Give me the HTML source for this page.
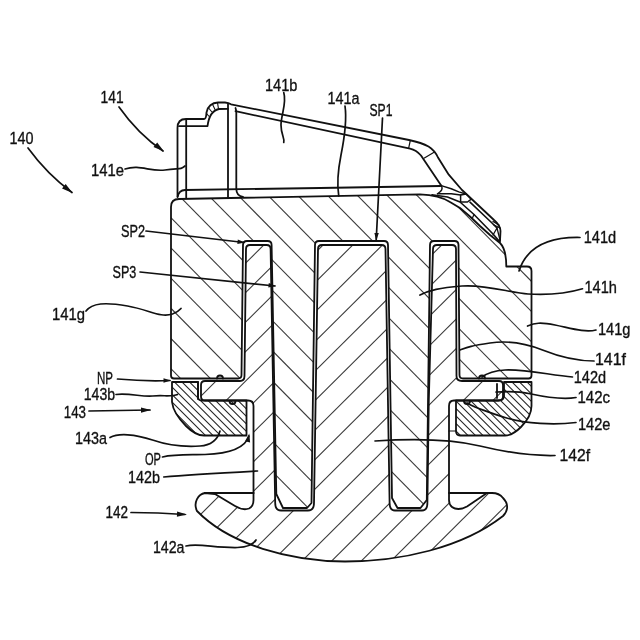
<!DOCTYPE html>
<html><head><meta charset="utf-8"><title>Figure</title>
<style>
html,body{margin:0;padding:0;background:#fff;}
body{width:640px;height:640px;overflow:hidden;font-family:"Liberation Sans",sans-serif;}
svg{display:block;}
</style></head><body>
<svg width="640" height="640" viewBox="0 0 640 640">
<rect x="0" y="0" width="640" height="640" fill="#fff"/>
<defs>
<clipPath id="c141"><path d="
M 171,207 Q 171,199 179,199 L 420,194.3
C 434,194.8 444,198 450,202 L 460,208 L 470,216.5 L 480,226 L 490,235 L 500,243
C 504,247 506.3,254 506.3,266.5 L 527,266.5 Q 531.5,266.5 531.5,271
L 531.5,375.5 Q 531.5,378.5 528.5,378.5 L 463,378.5 Q 459.5,378.5 459.5,375
L 458.5,245 Q 458.5,241 454.5,241 L 434,241 Q 430,241 430,245
L 426.8,500 L 420.5,508 L 397.5,508 L 392,498
L 388,245 Q 388,241 384,241 L 319,241 Q 315,241 315,245
L 311.5,503 L 307,508 L 283,508 L 276.3,494
L 271.6,245 Q 271.6,241 267.6,241 L 247,241 Q 243,241 243,245
L 241.5,375 Q 241.5,378.5 238,378.5 L 174,378.5 Q 171,378.5 171,375.5 Z
"/></clipPath>
<clipPath id="c142"><path d="
M 205,493 C 198,494 193,503 197,511
C 230,545 290,561 345,561.5
C 400,561.5 462,548 503,516
C 509,510 508,503 503,498
C 500,494 496,493 492,493 L 487,493
L 467,506.5 C 461,510 455,509.5 452,507
C 449.5,505 449,503 449,500
L 449,406 Q 449,400.5 454,400.5 L 499,400.5 Q 503,400.5 503,396.5
L 503,385 Q 503,381 499,381 L 462,381 Q 456.5,381 456.5,376
L 456,249 Q 456,245 452,245 L 437,245 Q 433,245 433,249
L 428.8,400 L 427.4,503 Q 427.4,510.5 422,510.5 L 395,510.5 Q 389.6,510.5 389.6,503
L 385.5,249 Q 385.5,245 381.5,245 L 322,245 Q 318,245 318,249
L 314,503 Q 314,510.5 308,510.5 L 281,510.5 Q 275.2,510.5 275.2,503
L 270.6,249 Q 270.6,245 266.6,245 L 250,245 Q 246,245 246,249
L 244.5,376 Q 244.5,381 240,381 L 205,381 Q 201,381 201,385
L 201,396.5 Q 201,400.5 205,400.5 L 248,400.5 Q 253.5,400.5 253.5,406
L 253.5,500 C 253.5,504 252,507 249,508.5 C 245,510 240,509 235,506
L 215,494 Z
"/></clipPath>
<clipPath id="c143"><path d="
M 172,382 L 198,382 L 198,397 Q 198,400.5 202,400.5 L 245.5,400.5
L 246.5,400.5 L 246.5,435.5 L 204,435.5 C 197,435.5 191,431 186,426 C 178,418 173,411 172,402 Z
"/><path d="
M 504,382 L 531.5,382 L 531.5,406 C 531.5,414 527,421 521,427 C 517,431 512,435.5 505,435.5
L 460,435.5 Q 456,435.5 456,431 L 456,400.5 L 498,400.5 Q 504,400.5 504,396 Z
"/></clipPath>
<filter id="tf" x="0" y="0" width="640" height="640" filterUnits="userSpaceOnUse"><feOffset dx="0" dy="0"/></filter>
</defs>
<g clip-path="url(#c141)"><g stroke="#3a3a3a" stroke-width="1.1" fill="none"><line x1="0" y1="-620.00" x2="640" y2="28.96"/><line x1="0" y1="-589.80" x2="640" y2="59.16"/><line x1="0" y1="-559.60" x2="640" y2="89.36"/><line x1="0" y1="-529.40" x2="640" y2="119.56"/><line x1="0" y1="-499.20" x2="640" y2="149.76"/><line x1="0" y1="-469.00" x2="640" y2="179.96"/><line x1="0" y1="-438.80" x2="640" y2="210.16"/><line x1="0" y1="-408.60" x2="640" y2="240.36"/><line x1="0" y1="-378.40" x2="640" y2="270.56"/><line x1="0" y1="-348.20" x2="640" y2="300.76"/><line x1="0" y1="-318.00" x2="640" y2="330.96"/><line x1="0" y1="-287.80" x2="640" y2="361.16"/><line x1="0" y1="-257.60" x2="640" y2="391.36"/><line x1="0" y1="-227.40" x2="640" y2="421.56"/><line x1="0" y1="-197.20" x2="640" y2="451.76"/><line x1="0" y1="-167.00" x2="640" y2="481.96"/><line x1="0" y1="-136.80" x2="640" y2="512.16"/><line x1="0" y1="-106.60" x2="640" y2="542.36"/><line x1="0" y1="-76.40" x2="640" y2="572.56"/><line x1="0" y1="-46.20" x2="640" y2="602.76"/><line x1="0" y1="-16.00" x2="640" y2="632.96"/><line x1="0" y1="14.20" x2="640" y2="663.16"/><line x1="0" y1="44.40" x2="640" y2="693.36"/><line x1="0" y1="74.60" x2="640" y2="723.56"/><line x1="0" y1="104.80" x2="640" y2="753.76"/><line x1="0" y1="135.00" x2="640" y2="783.96"/><line x1="0" y1="165.20" x2="640" y2="814.16"/><line x1="0" y1="195.40" x2="640" y2="844.36"/><line x1="0" y1="225.60" x2="640" y2="874.56"/><line x1="0" y1="255.80" x2="640" y2="904.76"/><line x1="0" y1="286.00" x2="640" y2="934.96"/><line x1="0" y1="316.20" x2="640" y2="965.16"/><line x1="0" y1="346.40" x2="640" y2="995.36"/><line x1="0" y1="376.60" x2="640" y2="1025.56"/><line x1="0" y1="406.80" x2="640" y2="1055.76"/><line x1="0" y1="437.00" x2="640" y2="1085.96"/><line x1="0" y1="467.20" x2="640" y2="1116.16"/><line x1="0" y1="497.40" x2="640" y2="1146.36"/><line x1="0" y1="527.60" x2="640" y2="1176.56"/><line x1="0" y1="557.80" x2="640" y2="1206.76"/><line x1="0" y1="588.00" x2="640" y2="1236.96"/><line x1="0" y1="618.20" x2="640" y2="1267.16"/></g></g>
<g clip-path="url(#c142)"><g stroke="#3a3a3a" stroke-width="1.1" fill="none"><line x1="0" y1="6.00" x2="640" y2="-630.80"/><line x1="0" y1="35.50" x2="640" y2="-601.30"/><line x1="0" y1="65.00" x2="640" y2="-571.80"/><line x1="0" y1="94.50" x2="640" y2="-542.30"/><line x1="0" y1="124.00" x2="640" y2="-512.80"/><line x1="0" y1="153.50" x2="640" y2="-483.30"/><line x1="0" y1="183.00" x2="640" y2="-453.80"/><line x1="0" y1="212.50" x2="640" y2="-424.30"/><line x1="0" y1="242.00" x2="640" y2="-394.80"/><line x1="0" y1="271.50" x2="640" y2="-365.30"/><line x1="0" y1="301.00" x2="640" y2="-335.80"/><line x1="0" y1="330.50" x2="640" y2="-306.30"/><line x1="0" y1="360.00" x2="640" y2="-276.80"/><line x1="0" y1="389.50" x2="640" y2="-247.30"/><line x1="0" y1="419.00" x2="640" y2="-217.80"/><line x1="0" y1="448.50" x2="640" y2="-188.30"/><line x1="0" y1="478.00" x2="640" y2="-158.80"/><line x1="0" y1="507.50" x2="640" y2="-129.30"/><line x1="0" y1="537.00" x2="640" y2="-99.80"/><line x1="0" y1="566.50" x2="640" y2="-70.30"/><line x1="0" y1="596.00" x2="640" y2="-40.80"/><line x1="0" y1="625.50" x2="640" y2="-11.30"/><line x1="0" y1="655.00" x2="640" y2="18.20"/><line x1="0" y1="684.50" x2="640" y2="47.70"/><line x1="0" y1="714.00" x2="640" y2="77.20"/><line x1="0" y1="743.50" x2="640" y2="106.70"/><line x1="0" y1="773.00" x2="640" y2="136.20"/><line x1="0" y1="802.50" x2="640" y2="165.70"/><line x1="0" y1="832.00" x2="640" y2="195.20"/><line x1="0" y1="861.50" x2="640" y2="224.70"/><line x1="0" y1="891.00" x2="640" y2="254.20"/><line x1="0" y1="920.50" x2="640" y2="283.70"/><line x1="0" y1="950.00" x2="640" y2="313.20"/><line x1="0" y1="979.50" x2="640" y2="342.70"/><line x1="0" y1="1009.00" x2="640" y2="372.20"/><line x1="0" y1="1038.50" x2="640" y2="401.70"/><line x1="0" y1="1068.00" x2="640" y2="431.20"/><line x1="0" y1="1097.50" x2="640" y2="460.70"/><line x1="0" y1="1127.00" x2="640" y2="490.20"/><line x1="0" y1="1156.50" x2="640" y2="519.70"/><line x1="0" y1="1186.00" x2="640" y2="549.20"/><line x1="0" y1="1215.50" x2="640" y2="578.70"/><line x1="0" y1="1245.00" x2="640" y2="608.20"/><line x1="0" y1="1274.50" x2="640" y2="637.70"/></g></g>
<g clip-path="url(#c143)"><g stroke="#222" stroke-width="1.1" fill="none"><line x1="0" y1="-370.00" x2="640" y2="270.00"/><line x1="0" y1="-362.50" x2="640" y2="277.50"/><line x1="0" y1="-355.00" x2="640" y2="285.00"/><line x1="0" y1="-347.50" x2="640" y2="292.50"/><line x1="0" y1="-340.00" x2="640" y2="300.00"/><line x1="0" y1="-332.50" x2="640" y2="307.50"/><line x1="0" y1="-325.00" x2="640" y2="315.00"/><line x1="0" y1="-317.50" x2="640" y2="322.50"/><line x1="0" y1="-310.00" x2="640" y2="330.00"/><line x1="0" y1="-302.50" x2="640" y2="337.50"/><line x1="0" y1="-295.00" x2="640" y2="345.00"/><line x1="0" y1="-287.50" x2="640" y2="352.50"/><line x1="0" y1="-280.00" x2="640" y2="360.00"/><line x1="0" y1="-272.50" x2="640" y2="367.50"/><line x1="0" y1="-265.00" x2="640" y2="375.00"/><line x1="0" y1="-257.50" x2="640" y2="382.50"/><line x1="0" y1="-250.00" x2="640" y2="390.00"/><line x1="0" y1="-242.50" x2="640" y2="397.50"/><line x1="0" y1="-235.00" x2="640" y2="405.00"/><line x1="0" y1="-227.50" x2="640" y2="412.50"/><line x1="0" y1="-220.00" x2="640" y2="420.00"/><line x1="0" y1="-212.50" x2="640" y2="427.50"/><line x1="0" y1="-205.00" x2="640" y2="435.00"/><line x1="0" y1="-197.50" x2="640" y2="442.50"/><line x1="0" y1="-190.00" x2="640" y2="450.00"/><line x1="0" y1="-182.50" x2="640" y2="457.50"/><line x1="0" y1="-175.00" x2="640" y2="465.00"/><line x1="0" y1="-167.50" x2="640" y2="472.50"/><line x1="0" y1="-160.00" x2="640" y2="480.00"/><line x1="0" y1="-152.50" x2="640" y2="487.50"/><line x1="0" y1="-145.00" x2="640" y2="495.00"/><line x1="0" y1="-137.50" x2="640" y2="502.50"/><line x1="0" y1="-130.00" x2="640" y2="510.00"/><line x1="0" y1="-122.50" x2="640" y2="517.50"/><line x1="0" y1="-115.00" x2="640" y2="525.00"/><line x1="0" y1="-107.50" x2="640" y2="532.50"/><line x1="0" y1="-100.00" x2="640" y2="540.00"/><line x1="0" y1="-92.50" x2="640" y2="547.50"/><line x1="0" y1="-85.00" x2="640" y2="555.00"/><line x1="0" y1="-77.50" x2="640" y2="562.50"/><line x1="0" y1="-70.00" x2="640" y2="570.00"/><line x1="0" y1="-62.50" x2="640" y2="577.50"/><line x1="0" y1="-55.00" x2="640" y2="585.00"/><line x1="0" y1="-47.50" x2="640" y2="592.50"/><line x1="0" y1="-40.00" x2="640" y2="600.00"/><line x1="0" y1="-32.50" x2="640" y2="607.50"/><line x1="0" y1="-25.00" x2="640" y2="615.00"/><line x1="0" y1="-17.50" x2="640" y2="622.50"/><line x1="0" y1="-10.00" x2="640" y2="630.00"/><line x1="0" y1="-2.50" x2="640" y2="637.50"/><line x1="0" y1="5.00" x2="640" y2="645.00"/><line x1="0" y1="12.50" x2="640" y2="652.50"/><line x1="0" y1="20.00" x2="640" y2="660.00"/><line x1="0" y1="27.50" x2="640" y2="667.50"/><line x1="0" y1="35.00" x2="640" y2="675.00"/><line x1="0" y1="42.50" x2="640" y2="682.50"/><line x1="0" y1="50.00" x2="640" y2="690.00"/><line x1="0" y1="57.50" x2="640" y2="697.50"/><line x1="0" y1="65.00" x2="640" y2="705.00"/><line x1="0" y1="72.50" x2="640" y2="712.50"/><line x1="0" y1="80.00" x2="640" y2="720.00"/><line x1="0" y1="87.50" x2="640" y2="727.50"/><line x1="0" y1="95.00" x2="640" y2="735.00"/><line x1="0" y1="102.50" x2="640" y2="742.50"/><line x1="0" y1="110.00" x2="640" y2="750.00"/><line x1="0" y1="117.50" x2="640" y2="757.50"/><line x1="0" y1="125.00" x2="640" y2="765.00"/><line x1="0" y1="132.50" x2="640" y2="772.50"/><line x1="0" y1="140.00" x2="640" y2="780.00"/><line x1="0" y1="147.50" x2="640" y2="787.50"/><line x1="0" y1="155.00" x2="640" y2="795.00"/><line x1="0" y1="162.50" x2="640" y2="802.50"/><line x1="0" y1="170.00" x2="640" y2="810.00"/><line x1="0" y1="177.50" x2="640" y2="817.50"/><line x1="0" y1="185.00" x2="640" y2="825.00"/><line x1="0" y1="192.50" x2="640" y2="832.50"/><line x1="0" y1="200.00" x2="640" y2="840.00"/><line x1="0" y1="207.50" x2="640" y2="847.50"/><line x1="0" y1="215.00" x2="640" y2="855.00"/><line x1="0" y1="222.50" x2="640" y2="862.50"/><line x1="0" y1="230.00" x2="640" y2="870.00"/><line x1="0" y1="237.50" x2="640" y2="877.50"/><line x1="0" y1="245.00" x2="640" y2="885.00"/><line x1="0" y1="252.50" x2="640" y2="892.50"/><line x1="0" y1="260.00" x2="640" y2="900.00"/><line x1="0" y1="267.50" x2="640" y2="907.50"/><line x1="0" y1="275.00" x2="640" y2="915.00"/><line x1="0" y1="282.50" x2="640" y2="922.50"/><line x1="0" y1="290.00" x2="640" y2="930.00"/><line x1="0" y1="297.50" x2="640" y2="937.50"/><line x1="0" y1="305.00" x2="640" y2="945.00"/><line x1="0" y1="312.50" x2="640" y2="952.50"/><line x1="0" y1="320.00" x2="640" y2="960.00"/><line x1="0" y1="327.50" x2="640" y2="967.50"/><line x1="0" y1="335.00" x2="640" y2="975.00"/><line x1="0" y1="342.50" x2="640" y2="982.50"/><line x1="0" y1="350.00" x2="640" y2="990.00"/><line x1="0" y1="357.50" x2="640" y2="997.50"/><line x1="0" y1="365.00" x2="640" y2="1005.00"/><line x1="0" y1="372.50" x2="640" y2="1012.50"/><line x1="0" y1="380.00" x2="640" y2="1020.00"/><line x1="0" y1="387.50" x2="640" y2="1027.50"/><line x1="0" y1="395.00" x2="640" y2="1035.00"/><line x1="0" y1="402.50" x2="640" y2="1042.50"/><line x1="0" y1="410.00" x2="640" y2="1050.00"/><line x1="0" y1="417.50" x2="640" y2="1057.50"/><line x1="0" y1="425.00" x2="640" y2="1065.00"/><line x1="0" y1="432.50" x2="640" y2="1072.50"/><line x1="0" y1="440.00" x2="640" y2="1080.00"/><line x1="0" y1="447.50" x2="640" y2="1087.50"/><line x1="0" y1="455.00" x2="640" y2="1095.00"/><line x1="0" y1="462.50" x2="640" y2="1102.50"/><line x1="0" y1="470.00" x2="640" y2="1110.00"/><line x1="0" y1="477.50" x2="640" y2="1117.50"/><line x1="0" y1="485.00" x2="640" y2="1125.00"/><line x1="0" y1="492.50" x2="640" y2="1132.50"/><line x1="0" y1="500.00" x2="640" y2="1140.00"/><line x1="0" y1="507.50" x2="640" y2="1147.50"/><line x1="0" y1="515.00" x2="640" y2="1155.00"/><line x1="0" y1="522.50" x2="640" y2="1162.50"/><line x1="0" y1="530.00" x2="640" y2="1170.00"/><line x1="0" y1="537.50" x2="640" y2="1177.50"/><line x1="0" y1="545.00" x2="640" y2="1185.00"/><line x1="0" y1="552.50" x2="640" y2="1192.50"/><line x1="0" y1="560.00" x2="640" y2="1200.00"/><line x1="0" y1="567.50" x2="640" y2="1207.50"/><line x1="0" y1="575.00" x2="640" y2="1215.00"/><line x1="0" y1="582.50" x2="640" y2="1222.50"/><line x1="0" y1="590.00" x2="640" y2="1230.00"/><line x1="0" y1="597.50" x2="640" y2="1237.50"/><line x1="0" y1="605.00" x2="640" y2="1245.00"/><line x1="0" y1="612.50" x2="640" y2="1252.50"/><line x1="0" y1="620.00" x2="640" y2="1260.00"/><line x1="0" y1="627.50" x2="640" y2="1267.50"/><line x1="0" y1="635.00" x2="640" y2="1275.00"/></g></g>
<g fill="none" stroke="#111" stroke-width="1.8" stroke-linejoin="round" stroke-linecap="round">
<path d="
M 171,207 Q 171,199 179,199 L 420,194.3
C 434,194.8 444,198 450,202 L 460,208 L 470,216.5 L 480,226 L 490,235 L 500,243
C 504,247 506.3,254 506.3,266.5 L 527,266.5 Q 531.5,266.5 531.5,271
L 531.5,375.5 Q 531.5,378.5 528.5,378.5 L 463,378.5 Q 459.5,378.5 459.5,375
L 458.5,245 Q 458.5,241 454.5,241 L 434,241 Q 430,241 430,245
L 426.8,500 L 420.5,508 L 397.5,508 L 392,498
L 388,245 Q 388,241 384,241 L 319,241 Q 315,241 315,245
L 311.5,503 L 307,508 L 283,508 L 276.3,494
L 271.6,245 Q 271.6,241 267.6,241 L 247,241 Q 243,241 243,245
L 241.5,375 Q 241.5,378.5 238,378.5 L 174,378.5 Q 171,378.5 171,375.5 Z
"/>
<path d="
M 205,493 C 198,494 193,503 197,511
C 230,545 290,561 345,561.5
C 400,561.5 462,548 503,516
C 509,510 508,503 503,498
C 500,494 496,493 492,493 L 487,493
L 467,506.5 C 461,510 455,509.5 452,507
C 449.5,505 449,503 449,500
L 449,406 Q 449,400.5 454,400.5 L 499,400.5 Q 503,400.5 503,396.5
L 503,385 Q 503,381 499,381 L 462,381 Q 456.5,381 456.5,376
L 456,249 Q 456,245 452,245 L 437,245 Q 433,245 433,249
L 428.8,400 L 427.4,503 Q 427.4,510.5 422,510.5 L 395,510.5 Q 389.6,510.5 389.6,503
L 385.5,249 Q 385.5,245 381.5,245 L 322,245 Q 318,245 318,249
L 314,503 Q 314,510.5 308,510.5 L 281,510.5 Q 275.2,510.5 275.2,503
L 270.6,249 Q 270.6,245 266.6,245 L 250,245 Q 246,245 246,249
L 244.5,376 Q 244.5,381 240,381 L 205,381 Q 201,381 201,385
L 201,396.5 Q 201,400.5 205,400.5 L 248,400.5 Q 253.5,400.5 253.5,406
L 253.5,500 C 253.5,504 252,507 249,508.5 C 245,510 240,509 235,506
L 215,494 Z
"/>
<path d="
M 172,382 L 198,382 L 198,397 Q 198,400.5 202,400.5 L 245.5,400.5
L 246.5,400.5 L 246.5,435.5 L 204,435.5 C 197,435.5 191,431 186,426 C 178,418 173,411 172,402 Z
"/>
<path d="
M 504,382 L 531.5,382 L 531.5,406 C 531.5,414 527,421 521,427 C 517,431 512,435.5 505,435.5
L 460,435.5 Q 456,435.5 456,431 L 456,400.5 L 498,400.5 Q 504,400.5 504,396 Z
"/>
<path d="M 205,493 L 253.5,493" stroke-width="2.2"/>
<path d="M 449,493 L 492,493" stroke-width="2.2"/>
<path d="M 198,382 L 198,399 M 497,384 L 497,398"/>
<path d="M 217,378.5 A 3,3 0 0 1 223,378.5"/>
<path d="M 229.5,401 A 3,3 0 0 0 235.5,401"/>
<path d="M 479,378.5 A 3,3 0 0 1 485,378.5"/>
<path d="M 464,401 A 3,3 0 0 0 470,401"/>
<path d="M 449,431 L 456,431" stroke-width="1.2"/>
<path d="
    M 177.5,197 L 177.5,128 Q 177.5,119 186,119 L 204,119
    C 206.5,119 206,116 206.5,112.5 C 207.5,106.5 212,102.5 218,102.5
    L 225,102.5 Q 228.5,102.8 231,104.3 L 409,140
    C 418,142 424,144 428.5,146.5 C 434,150 436,153 438,157.5 L 448.75,174.7 L 462,190 L 494,220
    C 498,223.5 500.5,227 500.5,231 L 500,241
    "/>
<path d="M 186.2,120 L 186.2,197.5"/>
<path d="M 179,126.2 L 207.5,126.2 C 208.5,118 212,110.5 219,109 L 228,108.8"/>
<path d="M 206.6,113.5 L 208.6,116 M 208.6,108 L 211.5,111.5 M 212.5,104.3 L 215,109.5 M 217.5,102.6 L 218.5,109" stroke-width="1.1"/>
<path d="M 228,104 L 228,197.3"/>
<path d="M 235.5,108 Q 236.3,110 236.3,113 L 236.3,189 Q 236.5,196 243,196.8"/>
<path d="M 235.5,111.2 L 410,148.6 C 414,149.5 418,152 421,155.5 L 441.5,186"/>
<path d="M 410.3,140.5 L 408.6,148.4 M 434.5,152 L 424.4,158" stroke-width="1.2"/>
<path d="M 177.7,196.5 Q 179,190.3 185,190 L 320,188 L 440.3,186"/>
<path d="M 441.25,185.6 L 451.25,188.75 L 458.75,191.9 L 465,193.75" stroke-width="1.5"/>
<path d="M 460.6,195 L 466.25,193.9 L 471.25,199.2 L 467.5,202 L 460.6,202 Z" stroke-width="1.5"/>
<path d="M 470,202.2 L 492,223 L 497,228" stroke-width="1.6"/>
<path d="M 437.5,193.75 L 451.25,193.75 L 460.6,195" stroke-width="1.4"/>
<path d="M 441.25,185.6 Q 444,190 437.5,193.75" stroke-width="1.4"/>
<path d="M 432,194.8 L 447.5,197 L 460,202 L 474,214.5 L 493,234 L 500,242" stroke-width="1.6"/>
<path d="M 474,214.5 L 472.5,217.8 M 493,221.5 L 499,225 M 494,225 L 500,228 M 497,228 L 493,235 M 497,228 L 500,240" stroke-width="1.3"/>
</g>
<g fill="none" stroke="#111" stroke-width="1.7" stroke-linecap="round">
<path d="M 119,107 Q 138,134 163,151"/>
<path d="M 28,148 Q 47,174 72,192.5"/>
<path d="M 125,169 C 140,164 150,172 165,170 S 180,170 185,166"/>
<path d="M 283.75,92.5 C 287,103 281,115 281,125 S 285,138 283.75,142.5"/>
<path d="M 345,106 C 347,120 345,135 341,155 S 337,185 338.75,196"/>
<path d="M 382.5,118 L 376.2,240"/>
<path d="M 146,231 L 244,242.5"/>
<path d="M 140,272 L 275,286"/>
<path d="M 86,311 C 92,303 105,302 127.5,306 S 160,318 172.5,314 Q 178,312 181,308.5"/>
<path d="M 117.5,379 Q 145,381.5 170,380.5"/>
<path d="M 116,394.5 C 130,393 142,397 152.5,396 S 172,397 177.5,394.5"/>
<path d="M 89,411 L 150,410"/>
<path d="M 110,437.5 C 118,433 135,434 152.5,440 S 185,447 200,446 Q 216,445 220,431"/>
<path d="M 162.5,457 C 175,454 190,455 205,454.5 S 244,452 249,436"/>
<path d="M 163.75,477 C 185,475 220,473 257.5,471"/>
<path d="M 131,512.5 Q 158,512.5 185,514.5"/>
<path d="M 186,546 C 198,543 215,548 237.5,547.5 Q 252,547 256,540"/>
<path d="M 580,237.5 C 555,237 528,243 519,271"/>
<path d="M 582.5,288.75 C 565,294 545,295 528,294 S 485,284 462,286 S 430,290 420,295"/>
<path d="M 596,330 C 585,333 570,328 555,325 S 535,323 527.5,326"/>
<path d="M 594,361 C 575,361 555,355 542.5,350 S 510,340 490,343 S 468,347 460,350"/>
<path d="M 572.5,377 C 550,375 525,369 505,370 Q 490,371 482,377"/>
<path d="M 576,397.5 C 562,400 545,397 530,393.75 S 505,392 496,392"/>
<path d="M 576,422.5 C 555,425 525,424 505,417.5 S 475,408 467,403"/>
<path d="M 555,455.5 C 535,456 505,452 480,446 S 420,438 375,441"/>
</g>
<polygon points="164.0,151.5 153.5,147.1 157.2,142.4" fill="#111" stroke="none"/>
<polygon points="72.5,193.0 62.0,188.6 65.7,183.9" fill="#111" stroke="none"/>
<polygon points="376.2,241.0 374.4,232.9 378.8,233.1" fill="#111" stroke="none"/>
<polygon points="245.0,242.6 237.3,243.9 237.8,239.5" fill="#111" stroke="none"/>
<polygon points="276.0,286.1 268.3,287.5 268.8,283.1" fill="#111" stroke="none"/>
<polygon points="171.0,380.5 163.5,382.7 163.5,378.3" fill="#111" stroke="none"/>
<polygon points="151.0,410.0 141.0,412.8 141.0,407.6" fill="#111" stroke="none"/>
<polygon points="249.3,433.5 250.1,442.4 245.0,441.3" fill="#111" stroke="none"/>
<polygon points="187.0,514.6 176.9,516.7 177.1,511.5" fill="#111" stroke="none"/>
<g filter="url(#tf)" font-family="Liberation Sans, sans-serif" font-size="16.8" fill="#111" stroke="#111" stroke-width="0.35"><text x="100.6" y="102.5" textLength="23" lengthAdjust="spacingAndGlyphs">141</text><text x="9.4" y="144.3" textLength="24" lengthAdjust="spacingAndGlyphs">140</text><text x="91" y="176.3" textLength="33" lengthAdjust="spacingAndGlyphs">141e</text><text x="265" y="90.6" textLength="32.5" lengthAdjust="spacingAndGlyphs">141b</text><text x="327.5" y="103.9" textLength="32" lengthAdjust="spacingAndGlyphs">141a</text><text x="369.5" y="115.6" textLength="23" lengthAdjust="spacingAndGlyphs">SP1</text><text x="121" y="237" textLength="24" lengthAdjust="spacingAndGlyphs">SP2</text><text x="112.5" y="277.6" textLength="23.8" lengthAdjust="spacingAndGlyphs">SP3</text><text x="52" y="319.6" textLength="33" lengthAdjust="spacingAndGlyphs">141g</text><text x="97" y="384" textLength="16" lengthAdjust="spacingAndGlyphs">NP</text><text x="83.75" y="400.2" textLength="31.3" lengthAdjust="spacingAndGlyphs">143b</text><text x="63.75" y="417.6" textLength="22.3" lengthAdjust="spacingAndGlyphs">143</text><text x="75" y="443.9" textLength="32" lengthAdjust="spacingAndGlyphs">143a</text><text x="145" y="465" textLength="16" lengthAdjust="spacingAndGlyphs">OP</text><text x="128" y="482.6" textLength="32" lengthAdjust="spacingAndGlyphs">142b</text><text x="105.5" y="518.1" textLength="22.5" lengthAdjust="spacingAndGlyphs">142</text><text x="153" y="553.1" textLength="31.5" lengthAdjust="spacingAndGlyphs">142a</text><text x="583.75" y="242.6" textLength="32.5" lengthAdjust="spacingAndGlyphs">141d</text><text x="584.5" y="293.1" textLength="32.5" lengthAdjust="spacingAndGlyphs">141h</text><text x="598" y="335.1" textLength="32.5" lengthAdjust="spacingAndGlyphs">141g</text><text x="595" y="364.7" textLength="31" lengthAdjust="spacingAndGlyphs">141f</text><text x="573.75" y="382.6" textLength="32.3" lengthAdjust="spacingAndGlyphs">142d</text><text x="577.5" y="402.6" textLength="32.5" lengthAdjust="spacingAndGlyphs">142c</text><text x="578" y="429.6" textLength="32.5" lengthAdjust="spacingAndGlyphs">142e</text><text x="559.5" y="461" textLength="30.5" lengthAdjust="spacingAndGlyphs">142f</text></g>
</svg>
</body></html>
